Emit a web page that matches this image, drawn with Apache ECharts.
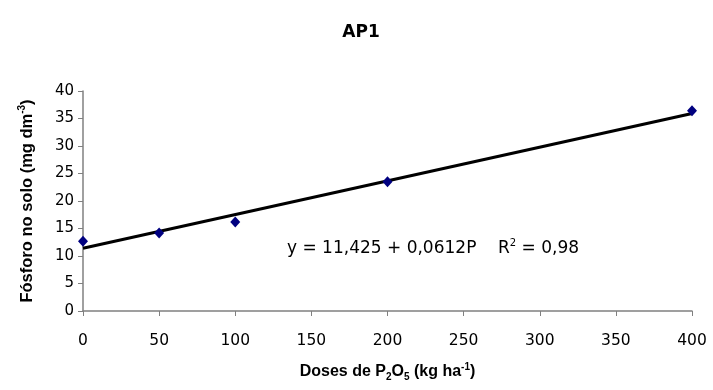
<!DOCTYPE html>
<html>
<head>
<meta charset="utf-8">
<script src="https://cdn.jsdelivr.net/npm/echarts@6/dist/echarts.min.js"></script>
<style>html,body{margin:0;padding:0;background:#fff}#c{width:713px;height:390px}</style>
</head>
<body>
<div id="c"></div>
<script>
var doses = [0, 50, 100, 200, 400];
var fosforo = [12.7, 14.2, 16.2, 23.5, 36.4];
var trendX = [0, 400];
var trendY = [11.425, 35.905];
var xTicks = [0, 50, 100, 150, 200, 250, 300, 350, 400];
var yTicks = [0, 5, 10, 15, 20, 25, 30, 35, 40];

var FONT = '"Liberation Sans", Arial, sans-serif';
var WIDE = '"DejaVu Sans", sans-serif';
var chart = echarts.init(document.getElementById('c'));
chart.setOption({
  animation: false,
  title: {
    text: 'AP1', left: 356, top: 19, textAlign: 'center',
    textStyle: {fontFamily: WIDE, fontWeight: 'bold', fontSize: 17, color: '#000'}
  },
  grid: {left: 83, right: 21, top: 91, bottom: 79},
  xAxis: {
    type: 'value', min: 0, max: 400, interval: 50,
    axisLine: {lineStyle: {color: '#808080', width: 1.5}},
    axisTick: {show: true, length: 5, lineStyle: {color: '#808080'}},
    splitLine: {show: false},
    axisLabel: {fontFamily: WIDE, fontSize: 15.5, color: '#000', margin: 22},
    name: '{b|Doses de P}{bs|2}{b|O}{bs|5}{b| (kg ha}{bp|-1}{b|)}',
    nameLocation: 'middle', nameGap: 51,
    nameTextStyle: {
      rich: {
        b: {fontFamily: FONT, fontWeight: 'bold', fontSize: 16, color: '#000', lineHeight: 20},
        bs: {fontFamily: FONT, fontWeight: 'bold', fontSize: 10, color: '#000', verticalAlign: 'bottom', lineHeight: 20},
        bp: {fontFamily: FONT, fontWeight: 'bold', fontSize: 10, color: '#000', verticalAlign: 'top', lineHeight: 20}
      }
    }
  },
  yAxis: {
    type: 'value', min: 0, max: 40, interval: 5,
    axisLine: {show: true, lineStyle: {color: '#808080', width: 1.5}},
    axisTick: {show: true, length: 5, lineStyle: {color: '#808080'}},
    splitLine: {show: false},
    axisLabel: {fontFamily: WIDE, fontSize: 15, color: '#000', margin: 9},
    name: '{b|Fósforo no solo (mg dm}{bp|-3}{b|)}',
    nameLocation: 'middle', nameGap: 46,
    nameTextStyle: {
      rich: {
        b: {fontFamily: FONT, fontWeight: 'bold', fontSize: 16.5, color: '#000', lineHeight: 20},
        bp: {fontFamily: FONT, fontWeight: 'bold', fontSize: 10, color: '#000', verticalAlign: 'top', lineHeight: 20}
      }
    }
  },
  graphic: [{
    type: 'text', left: 287, top: 238,
    style: {
      text: '{t|y = 11,425 + 0,0612P    R}{p|2}{t| = 0,98}',
      rich: {
        t: {fontFamily: WIDE, fontSize: 17, fill: '#000', lineHeight: 22},
        p: {fontFamily: WIDE, fontSize: 10, fill: '#000', verticalAlign: 'top', lineHeight: 22}
      }
    }
  }],
  series: [
    {
      type: 'line', data: trendX.map(function(x, i){ return [x, trendY[i]]; }),
      symbol: 'none', lineStyle: {color: '#000', width: 3}, z: 2
    },
    {
      type: 'scatter', data: doses.map(function(x, i){ return [x, fosforo[i]]; }),
      symbol: 'diamond', symbolSize: [10, 11], itemStyle: {color: '#000080', opacity: 1}, z: 3
    }
  ]
});
</script>
</body>
</html>
